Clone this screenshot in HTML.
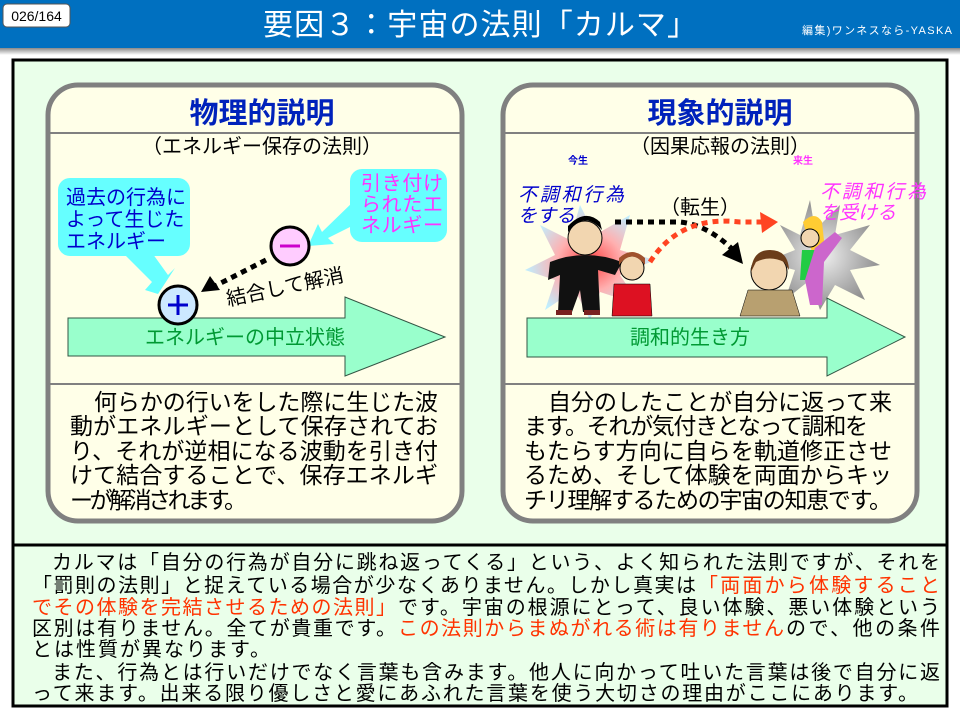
<!DOCTYPE html>
<html><head><meta charset="utf-8"><style>
html,body{margin:0;padding:0;width:960px;height:720px;overflow:hidden;background:#fff}
svg text{font-family:"Liberation Sans","Noto Sans CJK JP",sans-serif}
</style></head><body>
<svg width="960" height="720" viewBox="0 0 960 720" xmlns="http://www.w3.org/2000/svg">
<defs>
<linearGradient id="sh" x1="0" y1="0" x2="0" y2="1"><stop offset="0" stop-color="#888"/><stop offset="1" stop-color="#fff"/></linearGradient>
<radialGradient id="burst1" cx="0.5" cy="0.5" r="0.5"><stop offset="0" stop-color="#ff4040"/><stop offset="0.5" stop-color="#ffb0b0"/><stop offset="1" stop-color="#bfefff"/></radialGradient>
<radialGradient id="burst2" cx="0.5" cy="0.5" r="0.5"><stop offset="0" stop-color="#f0f0f0"/><stop offset="1" stop-color="#909090"/></radialGradient>
</defs>
<!-- header -->
<rect x="0" y="0" width="960" height="48" fill="#0070c0"/>
<rect x="0" y="48" width="960" height="7" fill="url(#sh)"/>
<rect x="3" y="4" width="67" height="23" rx="4" fill="#fff" stroke="#555" stroke-width="1"/>
<text x="36.5" y="21" font-size="14" text-anchor="middle" fill="#000">026/164</text>
<text x="480" y="35" font-size="30" text-anchor="middle" fill="#fff" textLength="434">要因３：宇宙の法則「カルマ」</text>
<text x="802" y="34" font-size="11" fill="#fff" textLength="150">編集)ワンネスなら-YASKA</text>
<!-- outer -->
<rect x="13" y="60" width="934" height="646" fill="#eaffea" stroke="#000" stroke-width="3"/>
<line x1="13" y1="545" x2="947" y2="545" stroke="#000" stroke-width="3"/>
<!-- left panel -->
<rect x="48" y="85" width="414" height="436" rx="30" fill="#ffffe8" stroke="#808080" stroke-width="5"/>
<line x1="48" y1="133" x2="462" y2="133" stroke="#808080" stroke-width="2"/>
<line x1="48" y1="384" x2="462" y2="384" stroke="#808080" stroke-width="2"/>
<text x="262" y="123" font-size="29" font-weight="bold" text-anchor="middle" fill="#0022bb">物理的説明</text>
<text x="262" y="153" font-size="20" text-anchor="middle" fill="#000">（エネルギー保存の法則）</text>
<!-- callouts -->
<path d="M120 250 L150 250 L168 275 L175 268 L158 294 L145 290 L152 282 Z" fill="#66ffff"/>
<rect x="58" y="178" width="132" height="78" rx="12" fill="#66ffff"/>
<text font-size="20" fill="#0000cc"><tspan x="66" y="204">過去の行為に</tspan><tspan x="66" y="226">よって生じた</tspan><tspan x="66" y="248">エネルギー</tspan></text>
<path d="M355 200 L360 222 L328 238 L334 244 L308 246 L318 224 L322 232 Z" fill="#66ffff"/>
<rect x="350" y="169" width="97" height="73" rx="12" fill="#66ffff"/>
<text font-size="20" fill="#ff33ff"><tspan x="361" y="190" textLength="82">引き付け</tspan><tspan x="361" y="211" textLength="82">られたエ</tspan><tspan x="361" y="232" textLength="82">ネルギー</tspan></text>
<circle cx="290" cy="246" r="19" fill="#ffccff" stroke="#000" stroke-width="3"/>
<line x1="280" y1="246" x2="300" y2="246" stroke="#cc00cc" stroke-width="3"/>
<line x1="266" y1="260" x2="215" y2="286" stroke="#000" stroke-width="5" stroke-dasharray="6,5"/>
<polygon points="201,292 210,276 220,290" fill="#000"/>
<text x="228" y="306" font-size="20" fill="#000" transform="rotate(-12 228 306)">結合して解消</text>
<!-- left arrow -->
<path d="M68 318 L345 318 L345 297 L445 337 L345 376 L345 356 L68 356 Z" fill="#99ffcc" stroke="#335544" stroke-width="1"/>
<circle cx="178" cy="305" r="19" fill="#cce8ff" stroke="#000" stroke-width="3"/>
<line x1="168" y1="305" x2="188" y2="305" stroke="#0000cc" stroke-width="3"/>
<line x1="178" y1="295" x2="178" y2="315" stroke="#0000cc" stroke-width="3"/>
<text x="245" y="344" font-size="20" text-anchor="middle" fill="#009933">エネルギーの中立状態</text>
<text font-size="23" fill="#000"><tspan x="94" y="410" textLength="344">何らかの行いをした際に生じた波</tspan><tspan x="70" y="434" textLength="368">動がエネルギーとして保存されてお</tspan><tspan x="70" y="459" textLength="368">り、それが逆相になる波動を引き付</tspan><tspan x="70" y="483" textLength="368">けて結合することで、保存エネルギ</tspan><tspan x="70" y="508" textLength="177">ーが解消されます。</tspan></text>
<!-- right panel -->
<rect x="503" y="85" width="414" height="436" rx="30" fill="#ffffe8" stroke="#808080" stroke-width="5"/>
<line x1="503" y1="133" x2="917" y2="133" stroke="#808080" stroke-width="2"/>
<line x1="503" y1="384" x2="917" y2="384" stroke="#808080" stroke-width="2"/>
<text x="720" y="123" font-size="29" font-weight="bold" text-anchor="middle" fill="#0022bb">現象的説明</text>
<text x="720" y="153" font-size="20" text-anchor="middle" fill="#000">（因果応報の法則）</text>
<text x="578" y="164" font-size="10" font-weight="bold" text-anchor="middle" fill="#0000cc">今生</text>
<text x="803" y="164" font-size="10" font-weight="bold" text-anchor="middle" fill="#ff33ff">来生</text>
<!-- bursts -->
<polygon points="580,205 595,235 630,215 620,250 655,260 620,275 640,305 600,292 590,320 575,290 545,310 555,280 525,270 555,255 540,225 570,240" fill="url(#burst1)"/>
<polygon points="810,200 815,230 840,205 835,235 870,225 850,250 880,265 850,270 865,300 835,285 820,310 810,280 785,300 795,270 765,262 795,250 780,225 800,235" fill="url(#burst2)"/>
<!-- man -->
<circle cx="585" cy="238" r="17" fill="#f2d6b0" stroke="#000"/>
<path d="M568 232 Q585 210 602 230 L600 222 Q585 208 568 226 Z" fill="#000"/>
<path d="M550 262 Q585 248 622 262 L615 275 L598 270 L600 312 L583 312 L580 290 L572 312 L558 312 L560 275 L548 280 Z" fill="#111"/>
<rect x="556" y="310" width="16" height="5" fill="#7a2020"/><rect x="584" y="310" width="16" height="5" fill="#7a2020"/>
<!-- girl -->
<circle cx="632" cy="268" r="12" fill="#f2d6b0" stroke="#000"/>
<path d="M619 265 Q632 248 645 265 L645 258 Q632 246 619 258 Z" fill="#a0522d"/>
<path d="M614 284 L650 284 L652 316 L612 316 Z" fill="#dd1122" stroke="#000" stroke-width="0.5"/>
<!-- boy -->
<circle cx="769" cy="272" r="18" fill="#f2d6b0" stroke="#000"/>
<path d="M751 272 Q752 250 770 250 Q788 250 789 270 L784 262 Q770 255 756 262 Z" fill="#6b3d1a"/>
<path d="M748 290 L792 290 L800 316 L740 316 Z" fill="#b8a070" stroke="#000" stroke-width="0.5"/>
<!-- woman -->
<path d="M803 222 Q815 210 822 222 L825 250 L812 252 Z" fill="#ffcc33"/>
<circle cx="810" cy="238" r="9" fill="#f2d6b0" stroke="#000"/>
<path d="M802 250 L822 250 L820 280 L800 280 Z" fill="#22cc44"/>
<path d="M815 248 L835 232 L842 238 L824 262 L822 305 L810 305 L805 280 Z" fill="#cc66cc"/>
<!-- dotted arcs -->
<path d="M615 222 L680 222 Q710 225 738 255" fill="none" stroke="#000" stroke-width="5" stroke-dasharray="6,5"/>
<polygon points="743,264 722,255 738,242" fill="#000"/>
<path d="M650 262 Q680 215 740 222 L773 222" fill="none" stroke="#ff4422" stroke-width="5" stroke-dasharray="6,5"/>
<polygon points="778,222 760,212 762,233" fill="#ff4422"/>
<text x="700" y="214" font-size="20" text-anchor="middle" fill="#000">（転生）</text>
<text font-size="19" font-style="italic" fill="#0000cc"><tspan x="518" y="201" textLength="106">不調和行為</tspan><tspan x="518" y="222">をする</tspan></text>
<text font-size="19" font-style="italic" fill="#ff33ff"><tspan x="820" y="198" textLength="106">不調和行為</tspan><tspan x="820" y="219">を受ける</tspan></text>
<!-- right arrow -->
<path d="M527 318 L827 318 L827 298 L905 337 L827 376 L827 357 L527 357 Z" fill="#99ffcc" stroke="#335544" stroke-width="1"/>
<text x="690" y="344" font-size="20" text-anchor="middle" fill="#009933">調和的生き方</text>
<text font-size="23" fill="#000"><tspan x="548" y="410" textLength="344">自分のしたことが自分に返って来</tspan><tspan x="524" y="434" textLength="344">ます。それが気付きとなって調和を</tspan><tspan x="524" y="459" textLength="368">もたらす方向に自らを軌道修正させ</tspan><tspan x="524" y="483" textLength="368">るため、そして体験を両面からキッ</tspan><tspan x="524" y="508" textLength="368">チリ理解するための宇宙の知恵です。</tspan></text>
<!-- bottom text -->
<text font-size="20" fill="#000"><tspan x="52" y="569" textLength="888">カルマは「自分の行為が自分に跳ね返ってくる」という、よく知られた法則ですが、それを</tspan></text>
<text font-size="20" fill="#000"><tspan x="32" y="592" textLength="664">「罰則の法則」と捉えている場合が少なくありません。しかし真実は</tspan></text>
<text font-size="20" fill="#ff3300"><tspan x="698" y="592" textLength="242">「両面から体験すること</tspan></text>
<text font-size="20" fill="#ff3300"><tspan x="32" y="614" textLength="364">でその体験を完結させるための法則」</tspan></text>
<text font-size="20" fill="#000"><tspan x="398" y="614" textLength="542">です。宇宙の根源にとって、良い体験、悪い体験という</tspan></text>
<text font-size="20" fill="#000"><tspan x="32" y="635" textLength="364">区別は有りません。全てが貴重です。</tspan></text>
<text font-size="20" fill="#ff3300"><tspan x="398" y="635" textLength="386">この法則からまぬがれる術は有りません</tspan></text>
<text font-size="20" fill="#000"><tspan x="786" y="635" textLength="154">ので、他の条件</tspan></text>
<text font-size="20" fill="#000"><tspan x="32" y="656" textLength="238">とは性質が異なります。</tspan></text>
<text font-size="20" fill="#000"><tspan x="52" y="679" textLength="888">また、行為とは行いだけでなく言葉も含みます。他人に向かって吐いた言葉は後で自分に返</tspan></text>
<text font-size="20" fill="#000"><tspan x="32" y="700" textLength="886">って来ます。出来る限り優しさと愛にあふれた言葉を使う大切さの理由がここにあります。</tspan></text>
</svg>
</body></html>
